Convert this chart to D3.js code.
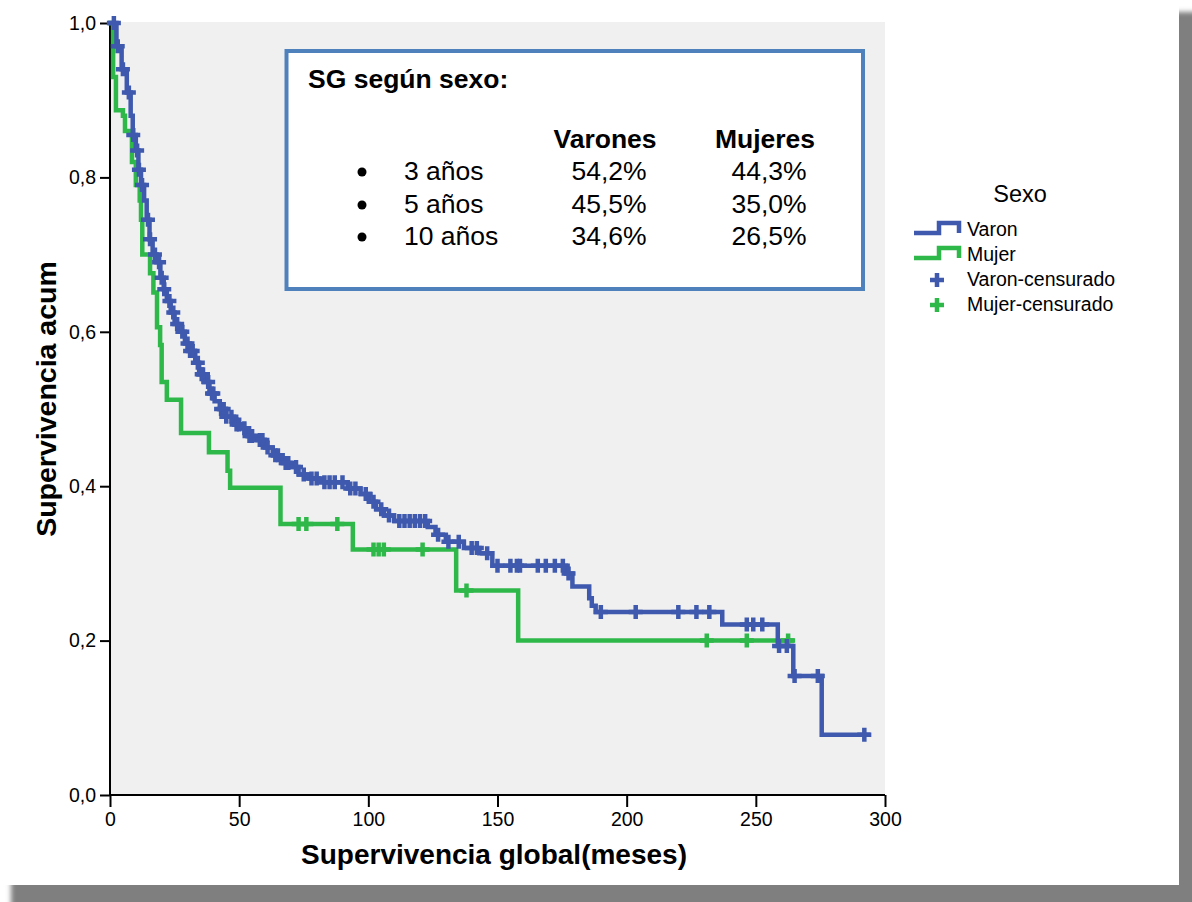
<!DOCTYPE html>
<html>
<head>
<meta charset="utf-8">
<script src="https://cdn.jsdelivr.net/npm/d3@7"></script>
<style>
  html, body { margin: 0; padding: 0; background: #fff; }
  svg { display: block; font-family: "Liberation Sans", Arial, sans-serif; }
</style>
</head>
<body>
<svg id="chart" width="1192" height="902"></svg>
<script>
// Kaplan-Meier steps: [month, cumulative survival after the event]
const varonSteps = [
  [0, 1.0], [2.5, 0.97], [4.5, 0.94], [6.5, 0.91], [8.0, 0.88], [8.8, 0.855],
  [10.0, 0.835], [11.0, 0.81], [12.0, 0.79], [13.2, 0.77], [14.2, 0.745],
  [15.3, 0.72], [16.5, 0.70], [18.0, 0.69], [19.5, 0.67], [20.8, 0.655],
  [22.0, 0.64], [23.5, 0.625], [25.0, 0.61], [26.5, 0.60], [29.0, 0.585],
  [31.0, 0.575], [33.0, 0.56], [34.5, 0.545], [36.5, 0.535], [38.5, 0.52],
  [40.5, 0.51], [42.5, 0.50], [45.0, 0.49], [48.0, 0.48], [51.0, 0.475],
  [53.5, 0.465], [57.0, 0.46], [60.0, 0.45], [63.0, 0.44], [66.5, 0.43],
  [70.0, 0.425], [73.0, 0.415], [77.0, 0.41], [81.0, 0.405], [92.0, 0.397],
  [97.0, 0.39], [100.5, 0.38], [103.0, 0.37], [106.0, 0.362], [110.0, 0.355],
  [123.0, 0.347], [126.0, 0.337], [130.0, 0.328], [137.0, 0.32], [143.0, 0.313],
  [148.0, 0.297], [176.5, 0.287], [179.0, 0.27], [185.5, 0.255], [186.5, 0.245],
  [188.0, 0.237], [237.0, 0.221], [258.5, 0.193], [264.5, 0.154], [275.5, 0.078]
];
const varonEnd = 293.5;
const varonCensored = [
  1.5, 3.0, 5.0, 7.3, 9.0, 10.5, 11.2, 12.4, 14.7, 15.5, 17.4, 19, 20, 21, 23,
  24.5, 26, 28, 30, 31, 32, 34, 35.5, 36, 38, 39.5, 40, 43, 44, 45, 47, 49, 50,
  52, 54, 55, 58, 59, 61, 64, 65, 68, 69, 72, 75, 78, 80, 83, 85, 87, 90, 93,
  95, 99, 102, 105, 108, 112, 114, 116, 118, 120, 122, 127, 131, 135, 140, 142,
  146, 150, 155, 157.5, 158.7, 165.6, 168.7, 172.2, 175.3, 177.5, 190, 203.5,
  220, 227, 232, 246.5, 249, 252.5, 259, 262, 265, 274, 292
];

const mujerSteps = [
  [0, 1.0], [1.2, 0.93], [2.3, 0.887], [5.0, 0.88], [5.8, 0.86], [8.5, 0.82],
  [10.0, 0.79], [11.5, 0.77], [12.0, 0.745], [12.5, 0.70], [15.5, 0.676],
  [16.8, 0.651], [18.2, 0.606], [19.4, 0.583], [20.0, 0.535], [22.0, 0.512],
  [27.5, 0.469], [38.3, 0.444], [45.5, 0.42], [46.5, 0.398], [66.0, 0.351],
  [94.0, 0.318], [134.0, 0.265], [158.0, 0.20]
];
const mujerEnd = 264;
const mujerCensored = [73, 76, 88, 102, 104, 106, 121, 138, 231, 246.5, 262.5];

const xTicks = [0, 50, 100, 150, 200, 250, 300];
const yTicks = [0, 0.2, 0.4, 0.6, 0.8, 1.0];

const legendTitle = "Sexo";
const legendLabels = ["Varon", "Mujer", "Varon-censurado", "Mujer-censurado"];

const boxTitle = "SG según sexo:";
const boxColumns = ["Varones", "Mujeres"];
const boxRows = ["3 años", "5 años", "10 años"];
const boxVarones = ["54,2%", "45,5%", "34,6%"];
const boxMujeres = ["44,3%", "35,0%", "26,5%"];

const BLUE = "#3e59ad";
const GREEN = "#2fb84a";

const svg = d3.select("#chart");

// card with drop shadow
const defs = svg.append("defs");
defs.append("filter").attr("id", "soft").attr("x", "-5%").attr("y", "-5%")
  .attr("width", "110%").attr("height", "110%")
  .append("feGaussianBlur").attr("stdDeviation", 2.5);
svg.append("rect").attr("x", 11).attr("y", 12).attr("width", 1195).attr("height", 900)
  .attr("fill", "#7f7f7f").attr("filter", "url(#soft)");
svg.append("rect").attr("x", 0).attr("y", 0).attr("width", 1179).attr("height", 885)
  .attr("fill", "#ffffff");

const plot = { left: 110, right: 885, top: 23, bottom: 795 };
const x = d3.scaleLinear().domain([0, 300]).range([plot.left, plot.right]);
const y = d3.scaleLinear().domain([0, 1]).range([plot.bottom, plot.top]);

// plot background
svg.append("rect")
  .attr("x", plot.left).attr("y", plot.top - 1)
  .attr("width", plot.right - plot.left).attr("height", plot.bottom - plot.top + 1)
  .attr("fill", "#f0f0f0");

// axes
const fmtY = v => d3.format(".1f")(v).replace(".", ",");
const yAxis = svg.append("g").attr("transform", `translate(${plot.left},0)`)
  .call(d3.axisLeft(y).tickValues(yTicks).tickFormat(fmtY).tickSize(10).tickPadding(4));
const xAxis = svg.append("g").attr("transform", `translate(0,${plot.bottom})`)
  .call(d3.axisBottom(x).tickValues(xTicks).tickSize(12).tickPadding(5));
[xAxis, yAxis].forEach(g => {
  g.select(".domain").attr("stroke", "#000").attr("stroke-width", 2);
  g.selectAll(".tick line").attr("stroke", "#000").attr("stroke-width", 2);
  g.selectAll(".tick text").attr("fill", "#000").attr("font-size", 19.5)
    .attr("font-family", "'Liberation Sans', Arial, sans-serif");
});
yAxis.select(".domain").attr("d", `M0,${plot.top - 1}V${plot.bottom}`);
xAxis.select(".domain").attr("d", `M${plot.left},0H${plot.right}`);

// axis titles
svg.append("text").attr("x", 494).attr("y", 864).attr("text-anchor", "middle")
  .attr("font-size", 28).attr("font-weight", "bold").text("Supervivencia global(meses)");
svg.append("text").attr("transform", "translate(56,399) rotate(-90)")
  .attr("text-anchor", "middle").attr("font-size", 28.5).attr("font-weight", "bold")
  .text("Supervivencia acum");

// survival curves
const line = d3.line().x(d => x(d[0])).y(d => y(d[1])).curve(d3.curveStepAfter);
const bis = d3.bisector(d => d[0]).right;
const valueAt = (steps, t) => steps[Math.max(0, bis(steps, t) - 1)][1];

function drawCurve(steps, end, color) {
  const pts = steps.concat([[end, steps[steps.length - 1][1]]]);
  svg.append("path").datum(pts).attr("d", line)
    .attr("fill", "none").attr("stroke", color).attr("stroke-width", 4.5)
    .attr("stroke-linejoin", "miter").attr("stroke-linecap", "square");
}
function drawCensors(steps, times, color) {
  const g = svg.append("g");
  times.forEach(t => {
    const cx = x(t), cy = y(valueAt(steps, t));
    g.append("path").attr("d", `M${cx - 7},${cy}H${cx + 7}M${cx},${cy - 7}V${cy + 7}`)
      .attr("stroke", color).attr("stroke-width", 4.5).attr("fill", "none");
  });
}
drawCurve(mujerSteps, mujerEnd, GREEN);
drawCurve(varonSteps, varonEnd, BLUE);
drawCensors(mujerSteps, mujerCensored, GREEN);
drawCensors(varonSteps, varonCensored, BLUE);

// summary box
const box = svg.append("g");
box.append("rect").attr("x", 286.5).attr("y", 51).attr("width", 576.5).attr("height", 238)
  .attr("fill", "#ffffff").attr("stroke", "#4f81bd").attr("stroke-width", 4);
box.append("text").attr("x", 308).attr("y", 88).attr("font-size", 26.5)
  .attr("font-weight", "bold").text(boxTitle);
const colX = [609, 769];
boxColumns.forEach((c, i) => {
  box.append("text").attr("x", colX[i] - 4).attr("y", 148).attr("text-anchor", "middle")
    .attr("font-size", 26.5).attr("font-weight", "bold").text(c);
});
const rowY = [180, 213, 245];
boxRows.forEach((r, i) => {
  box.append("circle").attr("cx", 362).attr("cy", rowY[i] - 8).attr("r", 4.5).attr("fill", "#000");
  box.append("text").attr("x", 404).attr("y", rowY[i]).attr("font-size", 26.5).text(r);
  box.append("text").attr("x", colX[0]).attr("y", rowY[i]).attr("text-anchor", "middle")
    .attr("font-size", 26.5).text(boxVarones[i]);
  box.append("text").attr("x", colX[1]).attr("y", rowY[i]).attr("text-anchor", "middle")
    .attr("font-size", 26.5).text(boxMujeres[i]);
});

// legend
const lg = svg.append("g");
lg.append("text").attr("x", 1020).attr("y", 202).attr("text-anchor", "middle")
  .attr("font-size", 23.5).text(legendTitle);
const stepIcon = (yl, color) => lg.append("path")
  .attr("d", `M914,${yl}H939V${yl - 10}H959V${yl}`)
  .attr("fill", "none").attr("stroke", color).attr("stroke-width", 4.5);
stepIcon(233, BLUE);
stepIcon(258, GREEN);
const crossIcon = (cy, color) => lg.append("path")
  .attr("d", `M${937 - 7},${cy}H${937 + 7}M937,${cy - 7}V${cy + 7}`)
  .attr("stroke", color).attr("stroke-width", 4.5);
crossIcon(280, BLUE);
crossIcon(305, GREEN);
[236, 261, 286, 311].forEach((yy, i) => {
  lg.append("text").attr("x", 967).attr("y", yy).attr("font-size", 19.5).text(legendLabels[i]);
});
</script>
</body>
</html>
